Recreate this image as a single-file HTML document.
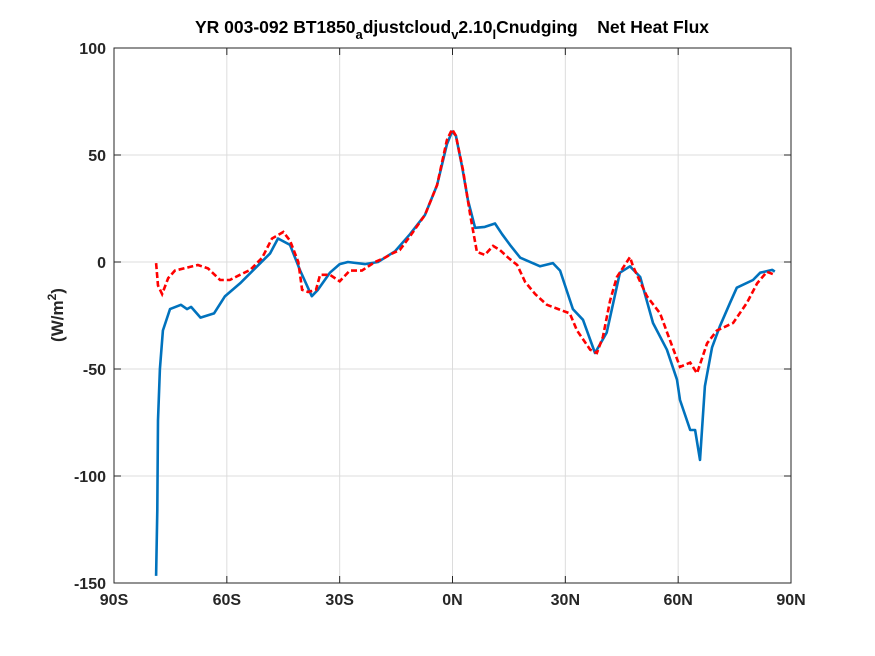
<!DOCTYPE html>
<html><head><meta charset="utf-8"><style>
body{margin:0;background:#fff;}
svg{display:block;font-family:"Liberation Sans",sans-serif;}
</style></head><body>
<svg width="875" height="656" viewBox="0 0 875 656">
<rect width="875" height="656" fill="#fff"/>
<rect x="114" y="48" width="677" height="535" fill="#fff" stroke="none"/>
<g id="grid"></g>
<g id="series"></g>
<rect x="114" y="48" width="677" height="535" fill="none" stroke="#262626" stroke-width="1"/>
<g id="ticks" font-weight="bold" font-size="16" fill="#262626"></g>
<text x="452" y="33" text-anchor="middle" font-weight="bold" font-size="17.5" fill="#000">YR 003-092 BT1850<tspan font-size="13" dy="6">a</tspan><tspan dy="-6">djustcloud</tspan><tspan font-size="13" dy="6">v</tspan><tspan dy="-6">2.10</tspan><tspan font-size="13" dy="6">l</tspan><tspan dy="-6">Cnudging&#160;&#160;&#160;&#160;Net Heat Flux</tspan></text>
<text transform="translate(63,315) rotate(-90)" text-anchor="middle" font-weight="bold" font-size="17" fill="#262626">(W/m<tspan font-size="12" dy="-7">2</tspan><tspan dy="7">)</tspan></text>
</svg>
<script>
const xTicks=[-90,-60,-30,0,30,60,90];
const xTickLabels=["90S","60S","30S","0N","30N","60N","90N"];
const yTicks=[-150,-100,-50,0,50,100];
const yTickLabels=["-150","-100","-50","0","50","100"];
const blueLat=[-78.8,-78.5,-78.3,-77.8,-77,-75.1,-72.2,-70.6,-69.5,-67,-63.4,-60.5,-56.5,-52.5,-48.5,-46.4,-43.2,-40.5,-37.4,-35.8,-32.6,-30,-27.8,-23.3,-19.8,-15.3,-11.3,-7.3,-4.1,-1.5,-0.1,0.9,2.5,4.1,6,8.6,11.3,13.2,15.3,18,23.3,26.7,28.6,32,34.7,37.9,41,44.5,47.2,49.9,53.3,57,59.7,60.5,63.2,64.5,65.8,67.1,69,71.1,73.8,75.6,79.9,81.8,85,85.7];
const blueVal=[-146.7,-116,-74,-50,-32,-22,-20,-22,-21,-26,-24,-16,-10,-3,4,11,8,-4,-16,-13,-5,-1,0,-1,0,5,13,22,36,55,61,59,45,29,16,16.4,18,13,8,2,-2,-0.5,-4,-22,-27,-42.5,-33,-5,-2,-7,-28.5,-41,-55,-64.5,-78.5,-78.5,-92.5,-58,-40,-30,-19,-12,-8.4,-5,-3.7,-4.5];
const redLat=[-78.8,-78.3,-77.2,-75.6,-73.8,-69.8,-67.7,-65,-61.8,-59.2,-56.5,-53.8,-50.6,-48,-45,-43.2,-41,-40,-38.4,-36.3,-35.2,-32.6,-30,-27.3,-24.1,-20.6,-18,-16,-14,-11.3,-7.3,-4.1,-1.5,-0.1,0.9,2.8,4.7,6.5,8.6,10.8,12.6,14.8,17.2,19.3,22,25.1,31.2,33.1,36.6,38.4,40,41.9,43.7,47.2,48,51.7,55.2,57.8,60.5,63.2,65,67.7,70.3,74.6,78.3,81,83.6,85.7];
const redVal=[-0.5,-11,-15,-7.5,-4,-2.3,-1.4,-3,-8.4,-8.4,-6,-3.7,2,11,14,10,0,-13,-14,-13,-6,-6,-9,-4,-4,0,2,4,5.6,12,22,36,57,62,59,43,22,4.7,3.3,7.5,5.6,2,-1.4,-9.3,-15,-20,-24,-32,-41,-42.5,-35,-18,-7,2.3,-2,-16,-24,-36.5,-49,-47,-52,-38,-32,-28.5,-19,-10,-4.6,-6];
const X0=114,X1=791,Y0=583,Y1=48;
const xs=v=>X0+(v+90)/180*(X1-X0);
const ys=v=>Y0-(v+150)/250*(Y0-Y1);
const NS="http://www.w3.org/2000/svg";
const grid=document.getElementById('grid'),ticks=document.getElementById('ticks'),series=document.getElementById('series');
function mk(tag,attrs,parent){const e=document.createElementNS(NS,tag);for(const k in attrs)e.setAttribute(k,attrs[k]);parent.appendChild(e);return e;}
xTicks.forEach((t,i)=>{
  const g=mk('line',{x1:xs(t),x2:xs(t),y1:Y1,y2:Y0,stroke:'#dcdcdc','stroke-width':1},grid);
  
  
  const tk=mk('line',{x1:xs(t),x2:xs(t),y1:Y0,y2:Y0-7,stroke:'#262626'},ticks);
  
  
  const tk2=mk('line',{x1:xs(t),x2:xs(t),y1:Y1,y2:Y1+7,stroke:'#262626'},ticks);
  
  
  const tx=mk('text',{x:xs(t),y:Y0+22,'text-anchor':'middle'},ticks);
  tx.textContent=xTickLabels[i];
  
  
});
yTicks.forEach((t,i)=>{
  const g=mk('line',{x1:X0,x2:X1,y1:ys(t),y2:ys(t),stroke:'#dcdcdc','stroke-width':1},grid);
  
  
  const tk=mk('line',{x1:X0,x2:X0+7,y1:ys(t),y2:ys(t),stroke:'#262626'},ticks);
  
  
  const tk2=mk('line',{x1:X1,x2:X1-7,y1:ys(t),y2:ys(t),stroke:'#262626'},ticks);
  
  
  const tx=mk('text',{x:X0-8,y:ys(t)+6,'text-anchor':'end'},ticks);
  tx.textContent=yTickLabels[i];
  
  
});
function path(lat,val){return lat.map((a,i)=>(i?'L':'M')+xs(a).toFixed(1)+','+ys(val[i]).toFixed(1)).join(' ');}
const b=mk('path',{d:path(blueLat,blueVal),fill:'none',stroke:'#0072bd','stroke-width':2.6,'stroke-linejoin':'round'},series);


const r=mk('path',{d:path(redLat,redVal),fill:'none',stroke:'#ff0000','stroke-width':2.6,'stroke-dasharray':'6 3'},series);


</script>
</body></html>
